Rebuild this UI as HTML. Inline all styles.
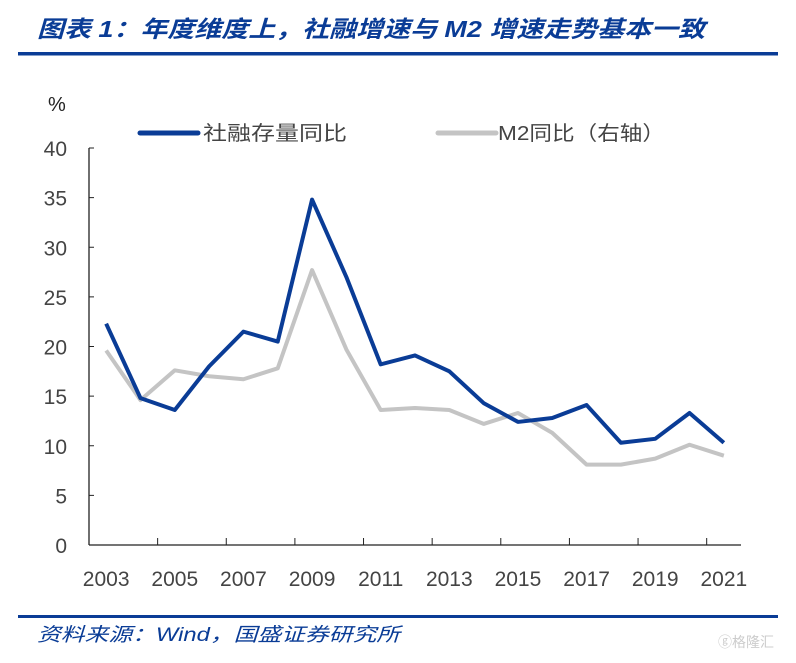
<!DOCTYPE html>
<html><head><meta charset="utf-8"><style>
body{margin:0;width:796px;height:658px;background:#fff;overflow:hidden;font-family:"Liberation Sans","Noto Sans CJK SC",sans-serif}
</style></head><body>
<svg width="796" height="658" xmlns="http://www.w3.org/2000/svg">
<text x="37" y="37" font-size="23" font-weight="bold" font-style="italic" fill="#0a3c96" textLength="668" lengthAdjust="spacingAndGlyphs" font-family="Liberation Sans,Noto Sans CJK SC,sans-serif">图表 1：年度维度上，社融增速与 M2 增速走势基本一致</text>
<rect x="18" y="52" width="760" height="3.5" fill="#0a3c96"/>
<text x="48" y="111" font-size="20" fill="#222">%</text>
<g>
<line x1="140" y1="133" x2="198" y2="133" stroke="#0a3c96" stroke-width="5" stroke-linecap="round"/>
<text x="203" y="140" font-size="20" fill="#444" textLength="144" lengthAdjust="spacingAndGlyphs">社融存量同比</text>
<line x1="438" y1="133" x2="496" y2="133" stroke="#c4c4c4" stroke-width="5" stroke-linecap="round"/>
<text x="498" y="140" font-size="20" fill="#444" textLength="167" lengthAdjust="spacingAndGlyphs">M2同比（右轴）</text>
</g>
<g id="axes"></g>
<g id="marks"></g>
<rect x="18" y="615" width="760" height="3" fill="#0a3c96"/>
<text x="37" y="641" font-size="19" font-style="italic" fill="#0a3c96" textLength="363" lengthAdjust="spacingAndGlyphs">资料来源：Wind，国盛证券研究所</text>
<text x="718" y="647" font-size="14" fill="#ccc">ⓖ格隆汇</text>
</svg>
<script>
const years=["2003","2004","2005","2006","2007","2008","2009","2010","2011","2012","2013","2014","2015","2016","2017","2018","2019","2020","2021"];
const tsf=[22.3,14.8,13.6,18.0,21.5,20.5,34.8,27.0,18.2,19.1,17.5,14.3,12.4,12.8,14.1,10.3,10.7,13.3,10.3];
const m2=[19.6,14.6,17.6,17.0,16.7,17.8,27.7,19.7,13.6,13.8,13.6,12.2,13.3,11.3,8.1,8.1,8.7,10.1,9.0];
const yTicks=[0,5,10,15,20,25,30,35,40];
const NS="http://www.w3.org/2000/svg";
const X0=89,X1=741,Y0=545,Y1=148;
const bw=(X1-X0)/years.length;
const xs=i=>X0+bw*(i+0.5);
const ys=v=>Y0-(v-0)/(40-0)*(Y0-Y1);
function mk(t,a,p){const e=document.createElementNS(NS,t);for(const k in a)e.setAttribute(k,a[k]);p.appendChild(e);return e;}
const ax=document.getElementById('axes'),mg=document.getElementById('marks');
let e=mk('line',{x1:X0,y1:Y1,x2:X0,y2:Y0,stroke:'#222','stroke-width':1.3},ax);


e=mk('line',{x1:X0,y1:Y0,x2:X1,y2:Y0,stroke:'#222','stroke-width':1.3},ax);


yTicks.forEach(v=>{
 mk('line',{x1:X0,y1:ys(v),x2:X0+5,y2:ys(v),stroke:'#222'},ax);
 const t=mk('text',{x:X0-22,y:ys(v)+8,'font-size':21,fill:'#444','text-anchor':'end'},ax);
 t.textContent=v;
 
 
});
years.forEach((y,i)=>{
 if(i%2==0&&i>0){mk('line',{x1:X0+bw*i,y1:Y0,x2:X0+bw*i,y2:Y0-7,stroke:'#222'},ax);}
 if(i%2==0){const t=mk('text',{x:xs(i),y:586,'font-size':21,fill:'#444','text-anchor':'middle'},ax);
 t.textContent=y;
 
 }
});
const pm=m2.map((v,i)=>xs(i)+','+ys(v)).join(' ');
e=mk('polyline',{points:pm,fill:'none',stroke:'#c4c4c4','stroke-width':4,'stroke-linejoin':'round'},mg);


const pt=tsf.map((v,i)=>xs(i)+','+ys(v)).join(' ');
e=mk('polyline',{points:pt,fill:'none',stroke:'#0a3c96','stroke-width':4,'stroke-linejoin':'round'},mg);


</script>
</body></html>
